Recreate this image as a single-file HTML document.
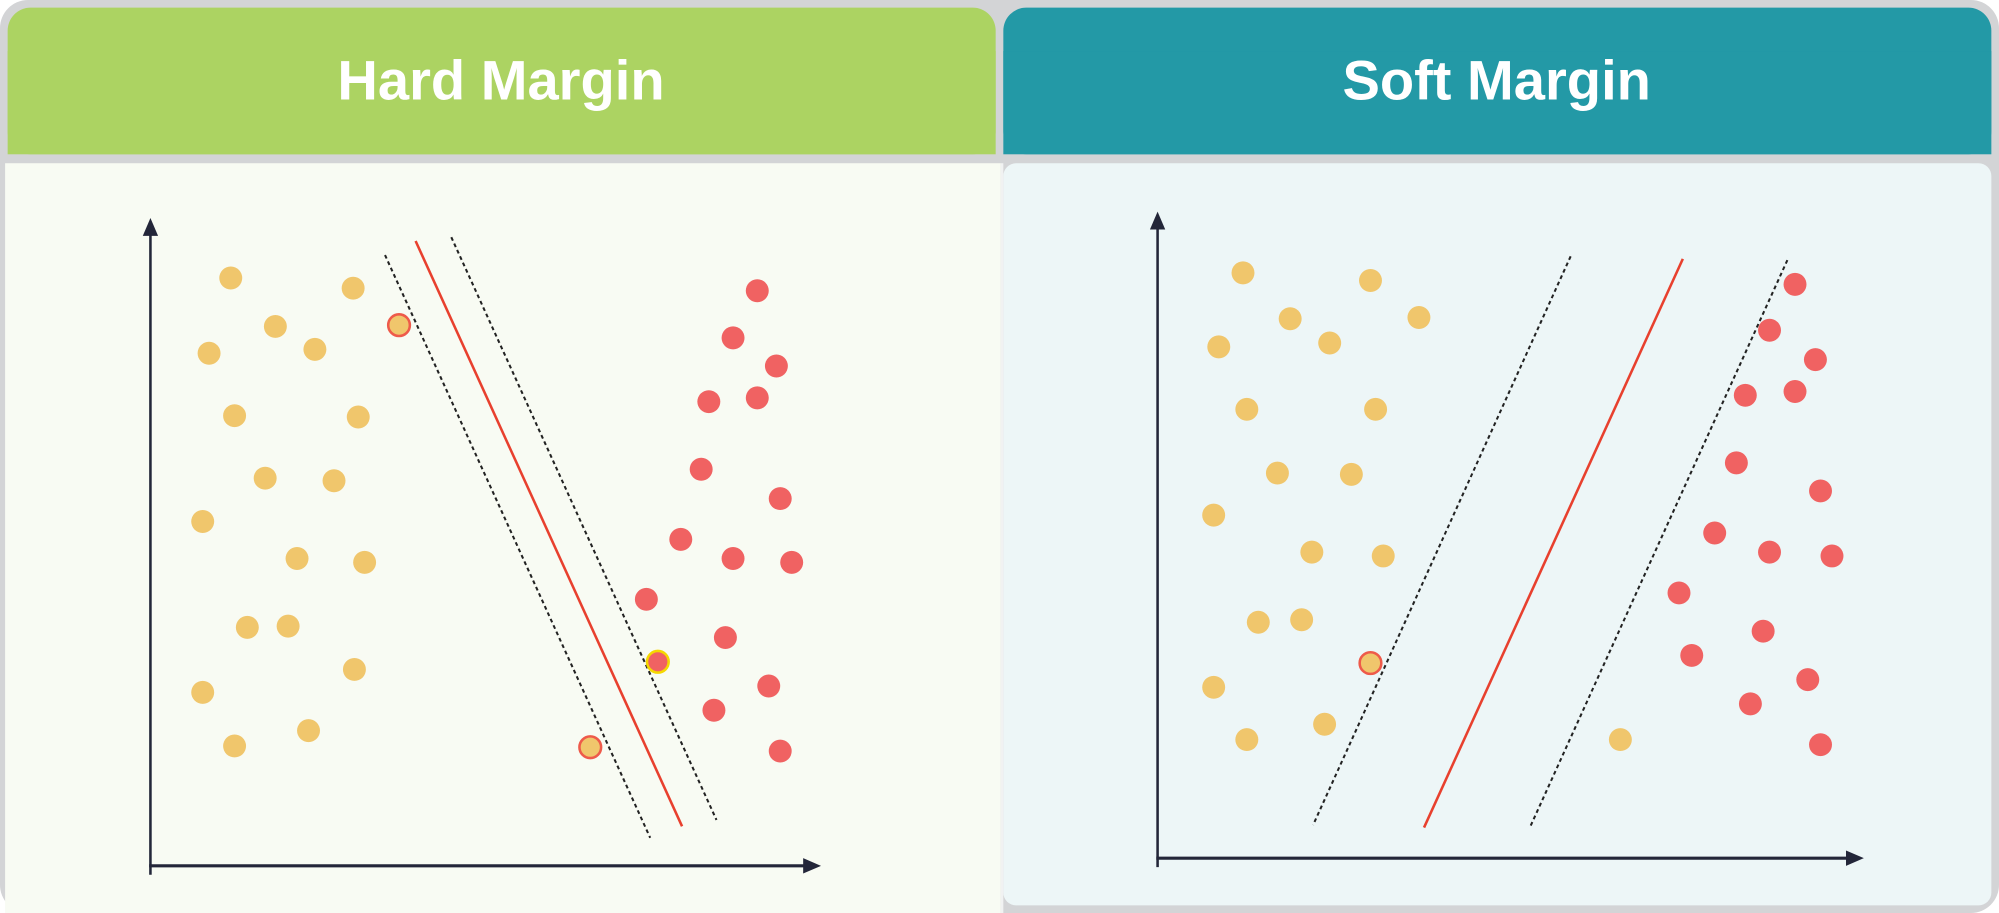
<!DOCTYPE html>
<html><head><meta charset="utf-8"><style>
html,body{margin:0;padding:0;background:#fff;width:1999px;height:913px;overflow:hidden}
svg{display:block}
</style></head><body>
<svg id="svg" width="1999" height="913" viewBox="0 0 1568 716" preserveAspectRatio="none" xmlns="http://www.w3.org/2000/svg">
<rect x="0" y="0" width="1568" height="716" rx="22" fill="#d3d4d6"/>
<rect x="6" y="6" width="775" height="115" rx="18" fill="#acd362"/>
<rect x="6" y="40" width="775" height="81" fill="#acd362"/>
<rect x="787" y="6" width="775" height="115" rx="18" fill="#2399a6"/>
<rect x="787" y="40" width="775" height="81" fill="#2399a6"/>
<rect x="4" y="128" width="781" height="588" fill="#f8fbf3"/>
<rect x="787" y="128" width="775" height="582" rx="10" fill="#edf6f7"/>
<rect x="785" y="128" width="2" height="588" fill="#f1f2f2"/>
<text x="393" y="78" text-anchor="middle" font-family="Liberation Sans, sans-serif" font-weight="bold" font-size="44" fill="#fff">Hard Margin</text>
<text x="1174" y="78" text-anchor="middle" font-family="Liberation Sans, sans-serif" font-weight="bold" font-size="44" fill="#fff">Soft Margin</text>
<g id="left"></g>
<g id="right"></g>
</svg>
<script>
// Values are positions in chart units (x right from origin, y up from origin)
const hardYellowX = [63,159,98,46,129,66,163,90,144,41,115,168,76,108,160,41,66,124];
const hardYellowY = [461,453,423,402,405,353,352,304,302,270,241,238,187,188,154,136,94,106];
const hardSupportYellowX = [195,345];
const hardSupportYellowY = [424,93];
const hardRedX = [476,457,491,438,476,432,494,416,457,503,389,451,485,442,494];
const hardRedY = [451,414,392,364,367,311,288,256,241,238,209,179,141,122,90];
const hardSupportRedX = [398];
const hardSupportRedY = [160];
const hardLineX1 = [184,208,236], hardLineY1 = [479,490,493];
const hardLineX2 = [392,417,444], hardLineY2 = [22,31,36];

const softYellowX = [67,167,104,205,48,135,70,171,94,152,44,121,177,79,113,44,70,131,363];
const softYellowY = [459,453,423,424,401,404,352,352,302,301,269,240,237,185,187,134,93,105,93];
const softSupportYellowX = [167];
const softSupportYellowY = [153];
const softRedX = [500,480,516,461,500,454,520,437,480,529,409,475,419,510,465,520];
const softRedY = [450,414,391,363,366,310,288,255,240,237,208,178,159,140,121,89];
const softLineX1 = [324,412,494], softLineY1 = [472,470,469];
const softLineX2 = [122,209,292], softLineY2 = [26,24,24];

const NS = 'http://www.w3.org/2000/svg';
function mk(tag, attrs, parent){const e=document.createElementNS(NS,tag);for(const k in attrs)e.setAttribute(k,attrs[k]);parent.appendChild(e);return e;}

function drawChart(g, ox, oy, xLen, yLen, yellowX, yellowY, supYX, supYY, redX, redY, supRX, supRY, lx1, ly1, lx2, ly2){
  const sx = v => ox + v, sy = v => oy - v;
  const ya = mk('line',{x1:ox,y1:oy+7,x2:ox,y2:oy-yLen+8,stroke:'#232639','stroke-width':2},g);
  
  
  const yh = mk('polygon',{points:`${ox-6},${oy-yLen+10} ${ox+6},${oy-yLen+10} ${ox},${oy-yLen-4}`,fill:'#232639'},g);
  
  
  const xa = mk('line',{x1:ox-1,y1:oy,x2:ox+xLen-8,y2:oy,stroke:'#232639','stroke-width':2.5},g);
  
  
  const xh = mk('polygon',{points:`${ox+xLen-10},${oy-6} ${ox+xLen-10},${oy+6} ${ox+xLen+4},${oy}`,fill:'#232639'},g);
  
  
  for(let i=0;i<lx1.length;i++){
    const solid = i===1;
    const l = mk('line',{x1:sx(lx1[i]),y1:sy(ly1[i]),x2:sx(lx2[i]),y2:sy(ly2[i]),stroke:solid?'#e8402e':'#222','stroke-width':solid?2:1.6,'stroke-dasharray':solid?'none':'3 2.5'},g);
    
    
  }
  for(let i=0;i<yellowX.length;i++){
    const c = mk('circle',{cx:sx(yellowX[i]),cy:sy(yellowY[i]),r:9,fill:'#f0c66c'},g);
    
    
  }
  for(let i=0;i<supYX.length;i++){
    const c = mk('circle',{cx:sx(supYX[i]),cy:sy(supYY[i]),r:8.5,fill:'#f0c66c',stroke:'#ee5a4a','stroke-width':2},g);
    
    
  }
  for(let i=0;i<redX.length;i++){
    const c = mk('circle',{cx:sx(redX[i]),cy:sy(redY[i]),r:9,fill:'#f06262'},g);
    
    
  }
  for(let i=0;i<supRX.length;i++){
    const c = mk('circle',{cx:sx(supRX[i]),cy:sy(supRY[i]),r:8.5,fill:'#f06262',stroke:'#f5d800','stroke-width':2},g);
    
    
  }
}
drawChart(document.getElementById('left'),118,679,522,504,hardYellowX,hardYellowY,hardSupportYellowX,hardSupportYellowY,hardRedX,hardRedY,hardSupportRedX,hardSupportRedY,hardLineX1,hardLineY1,hardLineX2,hardLineY2);
drawChart(document.getElementById('right'),908,673,550,503,softYellowX,softYellowY,softSupportYellowX,softSupportYellowY,softRedX,softRedY,[],[],softLineX1,softLineY1,softLineX2,softLineY2);
</script>
</body></html>
